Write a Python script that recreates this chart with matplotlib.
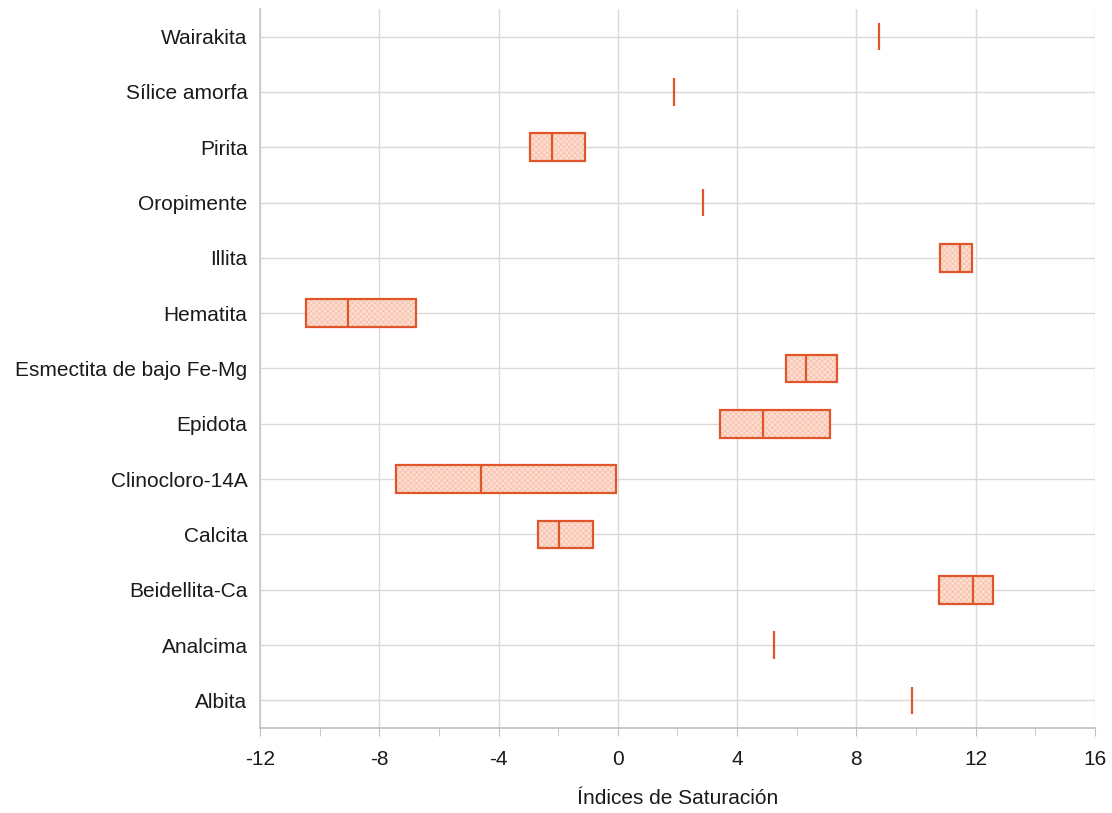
import matplotlib
matplotlib.use("Agg")
import matplotlib.pyplot as plt
from matplotlib.ticker import MultipleLocator

plt.rcParams['font.family'] = ['Liberation Sans', 'DejaVu Sans']
plt.rcParams['hatch.linewidth'] = 0.7

# Saturation-index ranges per mineral (min, median, max); single values have min == max
minerals = ["Albita", "Analcima", "Beidellita-Ca", "Calcita", "Clinocloro-14A",
            "Epidota", "Esmectita de bajo Fe-Mg", "Hematita", "Illita",
            "Oropimente", "Pirita", "Sílice amorfa", "Wairakita"]
si_min = [9.86, 5.24, 10.77, -2.68, -7.44, 3.42, 5.64, -10.46, 10.80, 2.85, -2.95, 1.88, 8.76]
si_med = [9.86, 5.24, 11.91, -1.97, -4.59, 4.87, 6.31, -9.05, 11.47, 2.85, -2.21, 1.88, 8.76]
si_max = [9.86, 5.24, 12.58, -0.84, -0.06, 7.11, 7.35, -6.77, 11.87, 2.85, -1.10, 1.88, 8.76]

xticks = [-12, -8, -4, 0, 4, 8, 12, 16]

edge = "#E0552A"
fill = "#FDE0D3"
hatch_col = "#F8C3AE"
grid_col = "#D9D9D9"
text_col = "#1a1a1a"
fs = 15

fig = plt.figure(figsize=(11.12, 8.13), dpi=100)
ax = fig.add_axes([0.2338, 0.1045, 0.7509, 0.8845])

ypos = list(range(len(minerals)))
h = 0.5
for y, lo, md, hi in zip(ypos, si_min, si_med, si_max):
    if hi > lo:
        ax.barh(y, hi - lo, left=lo, height=h, color=fill, edgecolor=hatch_col,
                hatch="xxxxxx", linewidth=0, zorder=3)
        ax.barh(y, hi - lo, left=lo, height=h, facecolor="none", edgecolor=edge,
                linewidth=1.6, zorder=4)
    ax.vlines(md, y - h / 2, y + h / 2, color=edge, linewidth=1.6, zorder=5)

ax.set_xlim(-12, 16)
ax.set_ylim(-0.5, len(minerals) - 0.5)
ax.set_xticks(xticks)
ax.set_xticklabels([str(t) for t in xticks])
ax.xaxis.set_minor_locator(MultipleLocator(2))
ax.set_yticks(ypos)
ax.set_yticklabels(minerals)

ax.grid(True, which="major", axis="both", color=grid_col, linewidth=1.0, zorder=0)
ax.set_axisbelow(True)

for s in ["top", "right"]:
    ax.spines[s].set_visible(False)
ax.spines["left"].set_color("#C8C8C8")
ax.spines["bottom"].set_color("#BFBFBF")
ax.spines["left"].set_linewidth(1.2)
ax.spines["bottom"].set_linewidth(1.2)

ax.tick_params(axis="y", length=0, labelsize=fs, pad=9, labelcolor=text_col)
ax.tick_params(axis="x", which="major", length=6, color="#BFBFBF", labelsize=fs,
               pad=10, labelcolor=text_col)
ax.tick_params(axis="x", which="minor", length=6, color="#BFBFBF")

ax.set_xlabel("Índices de Saturación", fontsize=fs, labelpad=14, color=text_col)

fig.savefig("out.png", dpi=100)
